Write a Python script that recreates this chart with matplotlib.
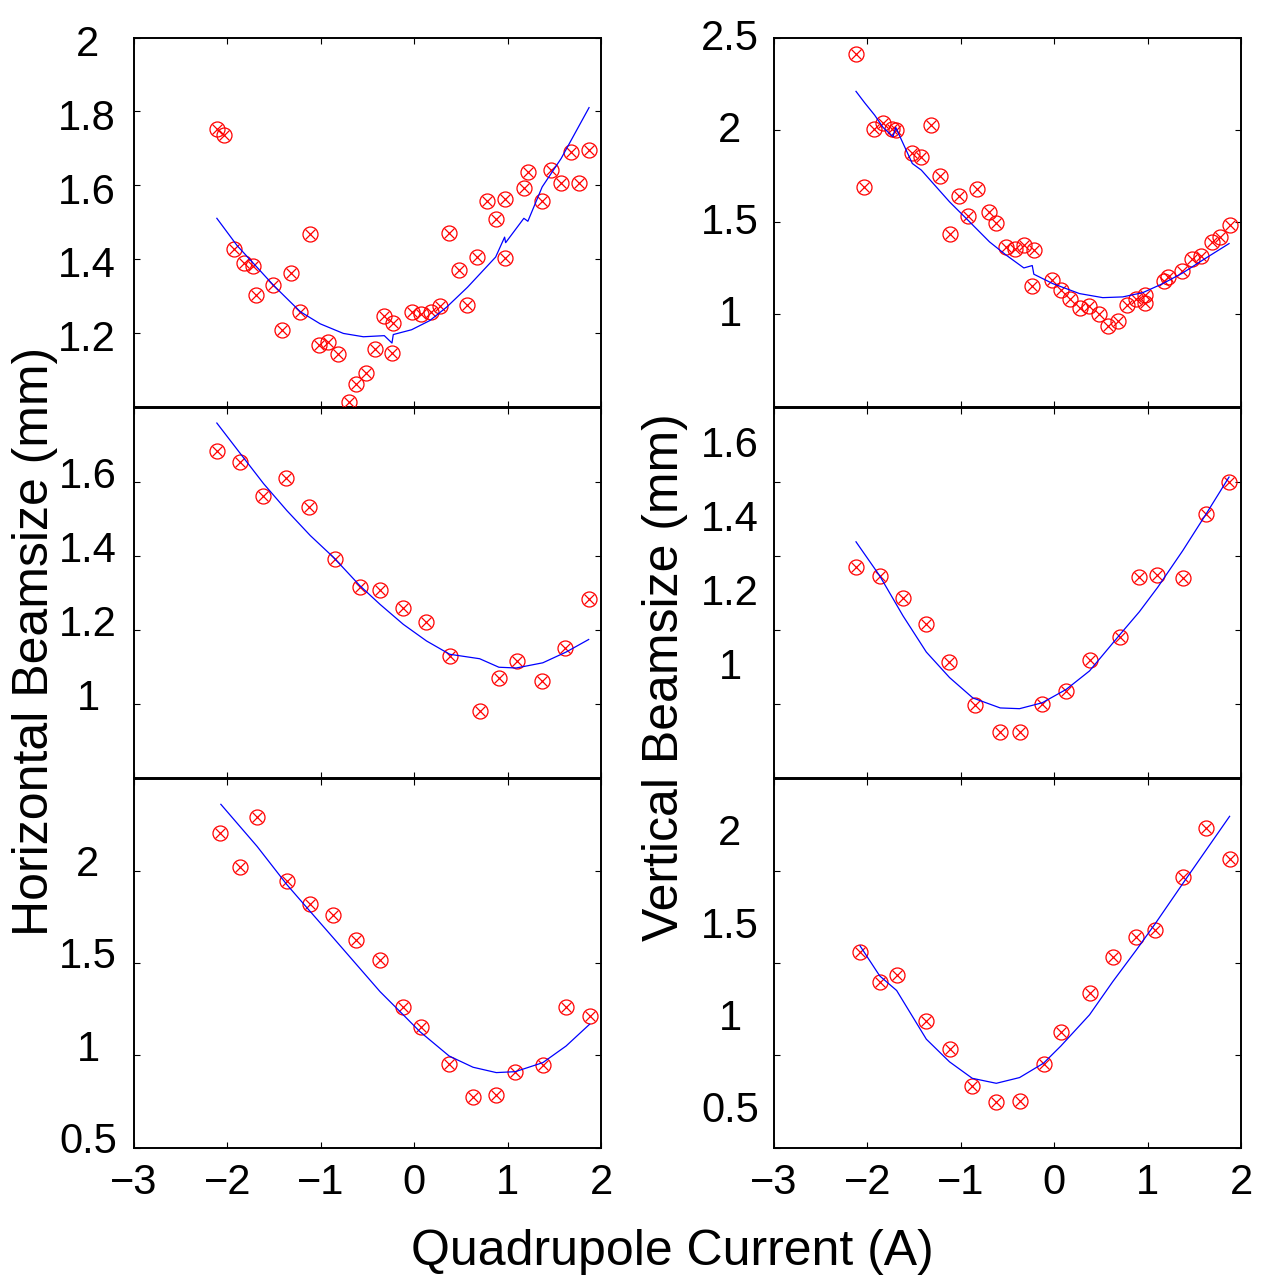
import matplotlib
matplotlib.use('Agg')
import matplotlib.pyplot as plt
from matplotlib.transforms import ScaledTranslation

plt.rcParams['font.family'] = ['Liberation Sans', 'DejaVu Sans']

# ---------------- data ----------------
# Top-left: horizontal beamsize, set 1
tl_x = [-2.116, -2.035, -1.924, -1.825, -1.722, -1.697, -1.515, -1.323, -1.419, -1.220,
        -1.117, -1.017, -0.921, -0.818, -0.697, -0.622, -0.515, -0.416, -0.320, -0.224,
        -0.238, -0.028, 0.075, 0.175, 0.278, 0.374, 0.477, 0.570, 0.677, 0.776,
        0.872, 0.975, 0.975, 1.174, 1.217, 1.370, 1.470, 1.573, 1.680, 1.768, 1.872]
tl_y = [1.752, 1.736, 1.426, 1.390, 1.382, 1.302, 1.328, 1.361, 1.207, 1.255,
        1.467, 1.168, 1.176, 1.142, 1.011, 1.061, 1.092, 1.155, 1.244, 1.227,
        1.145, 1.257, 1.251, 1.255, 1.273, 1.469, 1.371, 1.275, 1.404, 1.558,
        1.507, 1.563, 1.403, 1.592, 1.635, 1.557, 1.640, 1.605, 1.691, 1.606, 1.696]
tl_fit_x = [-2.113, -1.896, -1.718, -1.505, -1.220, -1.006, -0.758, -0.544, -0.320, -0.238,
            -0.224, -0.028, 0.168, 0.346, 0.570, 0.872, 0.968, 0.979, 1.174, 1.217,
            1.370, 1.573, 1.872]
tl_fit_y = [1.510, 1.436, 1.387, 1.328, 1.257, 1.224, 1.198, 1.189, 1.192, 1.172,
            1.195, 1.208, 1.233, 1.269, 1.323, 1.405, 1.459, 1.444, 1.510, 1.502,
            1.595, 1.672, 1.810]

# Top-right: vertical beamsize, set 1
tr_x = [-2.122, -2.040, -1.929, -1.833, -1.733, -1.697, -1.323, -1.519, -1.422, -1.223,
        -1.020, -1.116, -0.920, -0.824, -0.695, -0.620, -0.517, -0.421, -0.321, -0.221,
        -0.235, -0.021, 0.071, 0.174, 0.274, 0.370, 0.477, 0.577, 0.681, 0.777,
        0.877, 0.973, 0.976, 1.172, 1.215, 1.369, 1.472, 1.572, 1.690, 1.771, 1.878]
tr_y = [2.412, 1.689, 2.004, 2.034, 2.002, 1.998, 2.024, 1.875, 1.852, 1.752,
        1.642, 1.434, 1.533, 1.678, 1.555, 1.495, 1.363, 1.351, 1.374, 1.347,
        1.153, 1.184, 1.130, 1.080, 1.032, 1.043, 1.000, 0.936, 0.962, 1.049,
        1.085, 1.103, 1.061, 1.179, 1.202, 1.235, 1.300, 1.318, 1.389, 1.416, 1.486]
tr_fit_x = [-2.122, -2.029, -1.922, -1.833, -1.726, -1.697, -1.519, -1.422, -1.120, -0.906,
            -0.692, -0.513, -0.325, -0.235, -0.218, -0.015, 0.271, 0.520, 0.734, 0.948,
            1.162, 1.376, 1.626, 1.872]
tr_fit_y = [2.208, 2.146, 2.079, 2.013, 1.962, 2.013, 1.817, 1.781, 1.609, 1.501,
            1.392, 1.320, 1.251, 1.264, 1.217, 1.166, 1.112, 1.090, 1.094, 1.117,
            1.166, 1.224, 1.305, 1.383]

# Middle-left: horizontal beamsize, set 2
ml_x = [-2.116, -1.868, -1.615, -1.369, -1.127, -0.850, -0.580, -0.369, -0.124, 0.128,
        0.378, 0.704, 0.904, 1.099, 1.370, 1.619, 1.868]
ml_y = [1.682, 1.653, 1.561, 1.610, 1.532, 1.391, 1.314, 1.306, 1.259, 1.220,
        1.128, 0.981, 1.068, 1.115, 1.060, 1.149, 1.283]
ml_fit_x = [-2.113, -1.860, -1.612, -1.362, -1.113, -0.864, -0.580, -0.366, -0.117, 0.132,
            0.381, 0.701, 0.907, 1.093, 1.377, 1.626, 1.868]
ml_fit_y = [1.758, 1.675, 1.594, 1.521, 1.454, 1.395, 1.318, 1.268, 1.214, 1.169,
            1.133, 1.121, 1.098, 1.096, 1.110, 1.139, 1.173]

# Middle-right: vertical beamsize, set 2
mr_x = [-2.122, -1.868, -1.619, -1.369, -1.127, -0.852, -0.578, -0.371, -0.128, 0.128,
        0.378, 0.706, 0.909, 1.105, 1.376, 1.622, 1.872]
mr_y = [1.370, 1.345, 1.284, 1.214, 1.112, 0.995, 0.924, 0.924, 0.998, 1.035,
        1.117, 1.180, 1.341, 1.347, 1.340, 1.512, 1.598]
mr_fit_x = [-2.122, -1.868, -1.619, -1.369, -1.120, -0.871, -0.578, -0.371, -0.128, 0.128,
            0.378, 0.706, 0.912, 1.108, 1.376, 1.626, 1.872]
mr_fit_y = [1.437, 1.345, 1.237, 1.139, 1.070, 1.015, 0.988, 0.986, 1.002, 1.038,
            1.088, 1.187, 1.248, 1.314, 1.413, 1.512, 1.612]

# Bottom-left: horizontal beamsize, set 3
bl_x = [-2.074, -1.863, -1.679, -1.366, -1.116, -0.871, -0.625, -0.366, -0.117, 0.068,
        0.374, 0.630, 0.879, 1.082, 1.377, 1.622, 1.878]
bl_y = [2.202, 2.020, 2.291, 1.942, 1.819, 1.758, 1.626, 1.517, 1.264, 1.152,
        0.955, 0.774, 0.785, 0.911, 0.946, 1.260, 1.215]
bl_fit_x = [-2.070, -1.682, -1.362, -1.113, -0.864, -0.615, -0.366, -0.117, 0.061, 0.374,
            0.630, 0.879, 1.082, 1.377, 1.626, 1.878]
bl_fit_y = [2.360, 2.132, 1.924, 1.779, 1.635, 1.490, 1.345, 1.219, 1.128, 0.996,
            0.935, 0.906, 0.911, 0.960, 1.050, 1.168]

# Bottom-right: vertical beamsize, set 3
br_x = [-2.079, -1.868, -1.687, -1.369, -1.120, -0.877, -0.620, -0.371, -0.114, 0.071,
        0.378, 0.627, 0.880, 1.080, 1.380, 1.626, 1.878]
br_y = [1.562, 1.398, 1.437, 1.188, 1.036, 0.833, 0.745, 0.752, 0.955, 1.128,
        1.336, 1.530, 1.642, 1.678, 1.967, 2.232, 2.065]
br_fit_x = [-2.079, -1.868, -1.687, -1.369, -1.120, -0.877, -0.620, -0.371, -0.114, 0.071,
            0.378, 0.627, 0.880, 1.080, 1.380, 1.878]
br_fit_y = [1.593, 1.430, 1.351, 1.087, 0.964, 0.875, 0.848, 0.879, 0.957, 1.050,
            1.219, 1.399, 1.571, 1.712, 1.933, 2.295]

# axis ticks / labels
x_ticks = [-3, -2, -1, 0, 1, 2]
x_tick_labels = ['\u22123', '\u22122', '\u22121', '0', '1', '2']
tl_yticks = [1.2, 1.4, 1.6, 1.8, 2.0]
tl_ylabels = ['1.2', '1.4', '1.6', '1.8', '2']
tr_yticks = [1.0, 1.5, 2.0, 2.5]
tr_ylabels = ['1', '1.5', '2', '2.5']
mid_yticks = [1.0, 1.2, 1.4, 1.6]
mid_ylabels = ['1', '1.2', '1.4', '1.6']
bot_yticks = [0.5, 1.0, 1.5, 2.0]
bot_ylabels = ['0.5', '1', '1.5', '2']

x_label = 'Quadrupole Current (A)'
left_label = 'Horizontal Beamsize (mm)'
right_label = 'Vertical Beamsize (mm)'

# ---------------- layout ----------------
W, H = 1263, 1280
fig = plt.figure(figsize=(W / 100, H / 100), dpi=100)


def frac_rect(x0, x1, y0, y1):
    # pixel rect (top y0, bottom y1) to figure fraction
    return [x0 / W, 1 - y1 / H, (x1 - x0) / W, (y1 - y0) / H]


cols = [(134, 601), (774, 1241)]
rows = [(37.5, 406.5), (407.5, 777.5), (778.5, 1147.5)]

panels = [
    # (row, col, x, y, fitx, fity, ylim, yticks, ylabels, label dy px, label center px from axis)
    (0, 0, tl_x, tl_y, tl_fit_x, tl_fit_y, (1.0, 2.0), tl_yticks, tl_ylabels, 3, 47),
    (0, 1, tr_x, tr_y, tr_fit_x, tr_fit_y, (0.5, 2.5), tr_yticks, tr_ylabels, -3.5, 44),
    (1, 0, ml_x, ml_y, ml_fit_x, ml_fit_y, (0.8, 1.8), mid_yticks, mid_ylabels, -9, 46),
    (1, 1, mr_x, mr_y, mr_fit_x, mr_fit_y, (0.8, 1.8), mid_yticks, mid_ylabels, -40, 44),
    (2, 0, bl_x, bl_y, bl_fit_x, bl_fit_y, (0.5, 2.5), bot_yticks, bot_ylabels, -10, 46),
    (2, 1, br_x, br_y, br_fit_x, br_fit_y, (0.5, 2.5), bot_yticks, bot_ylabels, -41, 44),
]

for (r, c, xs, ys, fx, fy, ylim, yt, yl, dy, cpx) in panels:
    x0, x1 = cols[c]
    y0, y1 = rows[r]
    ax = fig.add_axes(frac_rect(x0, x1, y0, y1))
    ax.plot(xs, ys, linestyle='none', marker='o', ms=10.8, mfc='none', mec='#ff0000',
            mew=0.9, clip_on=False, zorder=3)
    ax.plot(xs, ys, linestyle='none', marker='x', ms=7.4, mec='#ff0000', mew=0.9,
            clip_on=False, zorder=3)
    ax.plot(fx, fy, color='#0000ff', lw=0.9, zorder=4)
    ax.set_xlim(-3, 2)
    ax.set_ylim(*ylim)
    ax.set_xticks(x_ticks)
    if r == 2:
        ax.set_xticklabels(x_tick_labels)
    else:
        ax.set_xticklabels([])
    ax.set_yticks(yt, labels=yl)
    ax.tick_params(axis='both', direction='in', length=4.5, width=0.8,
                   top=True, right=True, labelsize=30, colors='black')
    ax.tick_params(axis='x', pad=11)
    ax.tick_params(axis='y', pad=cpx * 0.72)
    for sp in ax.spines.values():
        sp.set_linewidth(1.4)
    off = ScaledTranslation(0, -dy / 100, fig.dpi_scale_trans)
    for lab in ax.get_yticklabels():
        lab.set_horizontalalignment('center')
        lab.set_transform(lab.get_transform() + off)

fig.text(672 / W, 1 - 1252 / H, x_label, ha='center', va='center', fontsize=36)
fig.text(35 / W, 1 - 641 / H, left_label, ha='center', va='center', rotation=90, fontsize=36)
fig.text(665 / W, 1 - 677 / H, right_label, ha='center', va='center', rotation=90, fontsize=36)

fig.savefig('out.png', dpi=100)
